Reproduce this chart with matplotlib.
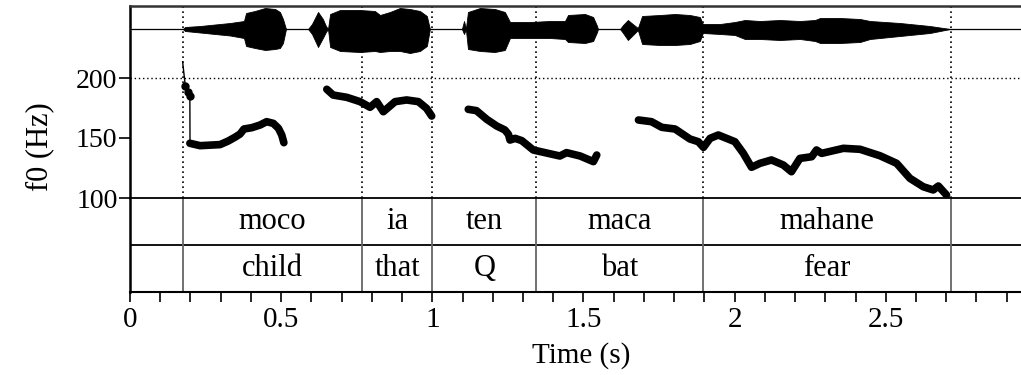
import matplotlib
matplotlib.use("Agg")
from matplotlib import pyplot as plt
from matplotlib.ticker import MultipleLocator

plt.rcParams['font.family'] = ['Liberation Serif', 'DejaVu Serif']

# interval tiers
bounds = [0.175, 0.768, 1.0, 1.344, 1.894, 2.715]
words = ['moco', 'ia', 'ten', 'maca', 'mahane']
gloss = ['child', 'that', 'Q', 'bat', 'fear']

# waveform envelope (time s, upper / lower amplitude)
wave_t = [0.000, 0.175, 0.182, 0.232, 0.281, 0.331, 0.377, 0.384, 0.413, 0.447,
          0.480, 0.496, 0.506, 0.516, 0.589, 0.602, 0.622, 0.638, 0.648, 0.655,
          0.662, 0.695, 0.761, 0.810, 0.827, 0.860, 0.893, 0.926, 0.959, 0.982,
          0.992, 1.098, 1.105, 1.111, 1.118, 1.158, 1.207, 1.240, 1.257, 1.323,
          1.389, 1.439, 1.449, 1.505, 1.532, 1.545, 1.548, 1.621, 1.631, 1.647,
          1.667, 1.680, 1.694, 1.753, 1.803, 1.852, 1.885, 1.895, 1.952, 2.001,
          2.034, 2.084, 2.150, 2.216, 2.266, 2.283, 2.349, 2.415, 2.448, 2.547,
          2.646, 2.713, 2.961]
wave_up = [0, 0, 2, 3, 4.5, 6, 8, 16, 18, 21,
           20, 17, 10, 0, 0, 5, 17, 10, 3, 0,
           15, 19, 19, 18, 14, 17, 21, 20, 18, 13,
           0, 0, 8, 0, 17, 21, 20, 17, 7, 7,
           8, 8, 14, 15, 12, 3, 0, 0, 4, 9,
           4, 1, 13, 14, 15, 14, 12, 5, 5, 7,
           9, 8, 9, 8, 9, 11, 11, 10, 8, 6,
           3, 0, 0]
wave_dn = [0, 0, 2, 3.5, 5, 6.5, 9, 17, 19, 21,
           20, 19, 14, 0, 0, 5, 18, 9, 3, 0,
           18, 22, 23, 22, 23, 22, 22, 24, 22, 17,
           0, 0, 5, 0, 20, 22, 23, 21, 9, 9,
           9, 10, 13, 14, 12, 3, 0, 0, 4, 11,
           5, 1, 15, 16, 16, 15, 12, 4, 5, 6,
           10, 10, 11, 10, 12, 14, 14, 13, 10, 7,
           4, 0, 0]

# pitch track (s, Hz)
lead_t = [0.174, 0.183, 0.192, 0.198, 0.1985]
lead_f = [213.6, 193.3, 188.6, 185.0, 145.6]
f0_segments = [
    ([0.198, 0.232, 0.276, 0.298, 0.325, 0.347, 0.364, 0.377, 0.403, 0.430,
      0.452, 0.474, 0.491, 0.502, 0.509],
     [145.6, 143.6, 144.2, 144.5, 147.5, 150.6, 153.3, 157.5, 158.6, 160.8,
      163.6, 162.2, 158.1, 152.5, 146.1]),
    ([0.651, 0.672, 0.717, 0.761, 0.794, 0.816, 0.838, 0.877, 0.915, 0.954,
      0.981, 0.998],
     [190.6, 185.8, 183.9, 180.3, 175.6, 180.3, 171.9, 180.3, 181.7, 180.3,
      174.7, 168.3]),
    ([1.119, 1.146, 1.180, 1.213, 1.240, 1.252, 1.257, 1.274, 1.296, 1.334,
      1.378, 1.422, 1.444, 1.489, 1.533, 1.544],
     [173.9, 172.8, 165.6, 160.0, 156.7, 153.0, 148.3, 149.7, 147.8, 140.0,
      137.5, 135.0, 137.8, 135.0, 130.3, 135.8]),
    ([1.682, 1.725, 1.759, 1.803, 1.852, 1.880, 1.897, 1.919, 1.946, 2.001,
      2.029, 2.056, 2.084, 2.122, 2.161, 2.188, 2.216, 2.255, 2.271, 2.288,
      2.360, 2.415, 2.481, 2.536, 2.580, 2.624, 2.657, 2.674, 2.701],
     [165.0, 163.6, 158.9, 157.5, 149.2, 146.9, 142.2, 149.7, 152.5, 146.9,
      137.2, 125.6, 128.9, 131.7, 127.5, 121.9, 133.0, 134.4, 140.0, 137.2,
      141.4, 140.6, 135.2, 128.9, 116.4, 109.4, 106.7, 110.0, 102.5]),
]

xmax = 2.96
fs = 20
fs_tier = 22
dot = (0, (1, 2))

fig = plt.figure(figsize=(10.21, 3.75), dpi=100)
L = 130 / 1021
W = (xmax * 302.3) / 1021

# pitch panel
ax_p = fig.add_axes([L, 1 - 198 / 375, W, 192 / 375])
ax_p.set_xlim(0, xmax)
ax_p.set_ylim(100, 260)
ax_p.set_yticks([100, 150, 200])
ax_p.set_xticks([])
ax_p.tick_params(axis='y', direction='out', length=8, width=1.2, pad=1, labelsize=fs)
for s in ['right', 'bottom']:
    ax_p.spines[s].set_visible(False)
ax_p.spines['left'].set_linewidth(1.8)
ax_p.spines['top'].set_linewidth(1.8)
ax_p.spines['top'].set_color('#333333')
ax_p.axhline(200, color='black', lw=1, ls=dot)
ax_p.axhline(100.4, color='black', lw=1, ls=dot)
for b in bounds:
    ax_p.axvline(b, color='black', lw=1.2, ls=dot)

ax_p.plot(lead_t, lead_f, color='black', lw=1)
ax_p.plot(lead_t[1:4], lead_f[1:4], 'o', color='black', ms=5)
for t, f in f0_segments:
    ax_p.plot(t, f, color='black', lw=5.5, solid_capstyle='round', solid_joinstyle='round')

# waveform
ax_w = fig.add_axes([L, 1 - 53 / 375, W, 48 / 375])
ax_w.set_xlim(0, xmax)
ax_w.set_ylim(-24, 24)
ax_w.axis('off')
ax_w.patch.set_alpha(0)
ax_w.axhline(0, color='#555555', lw=1, zorder=1)
ax_w.fill_between(wave_t, wave_up, [-v for v in wave_dn], color='black', lw=0.6, zorder=2)

# text tiers
ax_t = fig.add_axes([L, 1 - 292 / 375, W, 94 / 375])
ax_t.set_xlim(0, xmax)
ax_t.set_ylim(0, 2)
ax_t.set_yticks([])
ax_t.spines['right'].set_visible(False)
ax_t.spines['left'].set_linewidth(1.8)
ax_t.spines['bottom'].set_linewidth(1.5)
ax_t.spines['top'].set_linewidth(1.3)
ax_t.axhline(1, color='black', lw=1.3)
for b in bounds:
    ax_t.axvline(b, color='#666666', lw=1.3)
for i in range(len(words)):
    mid = (bounds[i] + bounds[i + 1]) / 2
    ax_t.text(mid, 1.5, words[i], ha='center', va='center', fontsize=fs_tier)
    ax_t.text(mid, 0.5, gloss[i], ha='center', va='center', fontsize=fs_tier)

ax_t.xaxis.set_minor_locator(MultipleLocator(0.1))
ax_t.set_xticks([0, 0.5, 1, 1.5, 2, 2.5])
ax_t.set_xticklabels(['0', '0.5', '1', '1.5', '2', '2.5'])
ax_t.tick_params(axis='x', which='both', direction='out', length=7, width=1.2,
                 pad=4, labelsize=fs_tier - 1)

fig.text(40 / 1021, 1 - 147 / 375, 'f0 (Hz)', rotation=90, ha='center', va='center', fontsize=fs_tier)
fig.text(581 / 1021, 1 - 356 / 375, 'Time (s)', ha='center', va='center', fontsize=fs_tier - 1)

plt.savefig('out.png', dpi=100)
